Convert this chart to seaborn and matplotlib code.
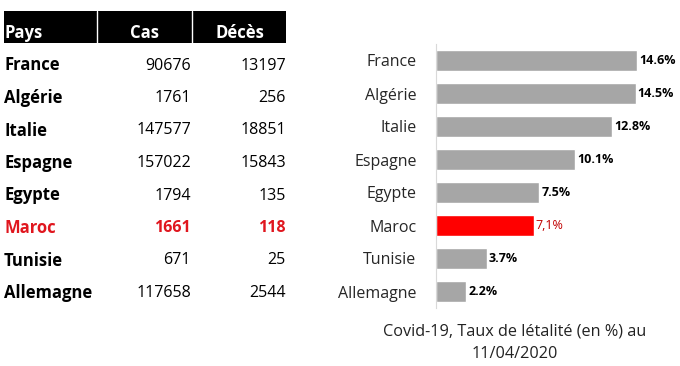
import pandas as pd
import numpy as np
import matplotlib.pyplot as plt
import seaborn as sns
from matplotlib.patches import Rectangle

# data
pays = ['France', 'Algérie', 'Italie', 'Espagne', 'Egypte', 'Maroc', 'Tunisie', 'Allemagne']
cas = [90676, 1761, 147577, 157022, 1794, 1661, 671, 117658]
deces = [13197, 256, 18851, 15843, 135, 118, 25, 2544]
taux = [14.6, 14.5, 12.8, 10.1, 7.5, 7.1, 3.7, 2.2]
taux_labels = ['14.6%', '14.5%', '12.8%', '10.1%', '7.5%', '7,1%', '3.7%', '2.2%']
highlight = 'Maroc'

sns.set_style('white')
plt.rcParams['font.family'] = ['Open Sans', 'DejaVu Sans']

df = pd.DataFrame({'Pays': pays, 'Cas': cas, 'Deces': deces, 'Taux': taux})
gray = '#A6A6A6'
red = '#FF0000'
palette = {p: (red if p == highlight else gray) for p in pays}

fig = plt.figure(figsize=(6.8, 3.66), dpi=100)

# ---- table on the left, drawn in pixel coordinates
ax_t = fig.add_axes([0, 0, 1, 1])
ax_t.set_xlim(0, 680)
ax_t.set_ylim(366, 0)
ax_t.axis('off')
ax_t.add_patch(Rectangle((4, 11), 282, 32, color='black', lw=0))
ax_t.plot([97, 97], [11, 43], color='white', lw=1)
ax_t.plot([192, 192], [11, 43], color='white', lw=1)
ax_t.text(4, 38, 'Pays', color='white', fontsize=12, fontweight='bold', va='baseline')
ax_t.text(159, 38, 'Cas', color='white', fontsize=12, fontweight='bold', va='baseline', ha='right')
ax_t.text(264, 38, 'Décès', color='white', fontsize=12, fontweight='bold', va='baseline', ha='right')
row_y = np.linspace(65.5, 293, len(pays))
for i, row in df.iterrows():
    is_hl = row['Pays'] == highlight
    col = '#E0161E' if is_hl else 'black'
    w = 'bold' if is_hl else 'normal'
    y = row_y[i]
    ax_t.text(4, y, row['Pays'], fontsize=12, fontweight='bold', color=col, va='center')
    ax_t.text(191, y, str(row['Cas']), fontsize=11.5, fontweight=w, color=col, va='center', ha='right')
    ax_t.text(286, y, str(row['Deces']), fontsize=11.5, fontweight=w, color=col, va='center', ha='right')

# ---- bar chart on the right
ax = fig.add_axes([436 / 680, 1 - 308 / 366, 244 / 680, 264 / 366])
sns.barplot(data=df, x='Taux', y='Pays', hue='Pays', palette=palette, legend=False,
            width=0.62, saturation=1, ax=ax)
ax.set_xlim(0, 244 / 13.77)
ax.set_ylim(7.5, -0.5)
ax.set_xlabel('')
ax.set_ylabel('')
ax.set_xticks([])
ax.tick_params(axis='y', length=0, pad=14, labelsize=11.5, labelcolor='#262626')
for side in ['top', 'right', 'bottom']:
    ax.spines[side].set_visible(False)
ax.spines['left'].set_color('#D9D9D9')
ax.spines['left'].set_linewidth(0.8)

for i, (v, lab) in enumerate(zip(taux, taux_labels)):
    is_hl = pays[i] == highlight
    ax.text(v + 0.15, i, lab, va='center', ha='left', fontsize=9,
            fontweight='normal' if is_hl else 'bold',
            color='#C00000' if is_hl else 'black')

fig.text(515 / 680, 1 - 332 / 366, 'Covid-19, Taux de létalité (en %) au', ha='center', va='center',
         fontsize=11.7, color='#222222')
fig.text(515 / 680, 1 - 354 / 366, '11/04/2020', ha='center', va='center', fontsize=11.7, color='#222222')

fig.savefig('out.png', dpi=100)
